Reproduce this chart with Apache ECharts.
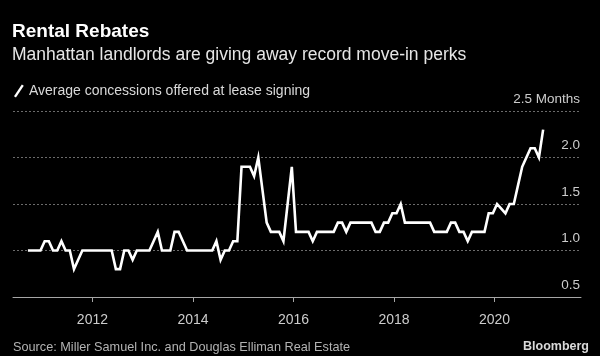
<!DOCTYPE html>
<html><head><meta charset="utf-8">
<script src="https://cdn.jsdelivr.net/npm/echarts@6/dist/echarts.min.js"></script>
<style>html,body{margin:0;padding:0;background:#000;}#c{width:600px;height:356px;}</style>
</head><body><div id="c"></div>
<script>
// Monthly series, first observation Sep 2010, last Dec 2020
const startYear = 2010;
const startMonth = 9;
const v2010 = [1.0, 1.0, 1.0, 1.0];
const v2011 = [1.1, 1.1, 1.0, 1.0, 1.1, 1.0, 1.0, 0.8, 0.9, 1.0, 1.0, 1.0];
const v2012 = [1.0, 1.0, 1.0, 1.0, 1.0, 0.8, 0.8, 1.0, 1.0, 0.9, 1.0, 1.0];
const v2013 = [1.0, 1.0, 1.1, 1.2, 1.0, 1.0, 1.0, 1.2, 1.2, 1.1, 1.0, 1.0];
const v2014 = [1.0, 1.0, 1.0, 1.0, 1.0, 1.1, 0.9, 1.0, 1.0, 1.1, 1.1, 1.9];
const v2015 = [1.9, 1.9, 1.8, 2.0, 1.65, 1.3, 1.2, 1.2, 1.2, 1.1, 1.5, 1.9];
const v2016 = [1.2, 1.2, 1.2, 1.2, 1.1, 1.2, 1.2, 1.2, 1.2, 1.2, 1.3, 1.3];
const v2017 = [1.2, 1.3, 1.3, 1.3, 1.3, 1.3, 1.3, 1.2, 1.2, 1.3, 1.3, 1.4];
const v2018 = [1.4, 1.5, 1.3, 1.3, 1.3, 1.3, 1.3, 1.3, 1.3, 1.2, 1.2, 1.2];
const v2019 = [1.2, 1.3, 1.3, 1.2, 1.2, 1.1, 1.2, 1.2, 1.2, 1.2, 1.4, 1.4];
const v2020 = [1.5, 1.45, 1.4, 1.5, 1.5, 1.7, 1.9, 2.0, 2.1, 2.1, 2.0, 2.3];

const xTickYears = [2012, 2014, 2016, 2018, 2020];
const yTicks = [0.5, 1.0, 1.5, 2.0, 2.5];
const yUnit = 'Months';

const titleText = 'Rental Rebates';
const subtitleText = 'Manhattan landlords are giving away record move-in perks';
const legendText = 'Average concessions offered at lease signing';
const sourceText = 'Source: Miller Samuel Inc. and Douglas Elliman Real Estate';
const brandText = 'Bloomberg';

const values = [].concat(v2010, v2011, v2012, v2013, v2014, v2015, v2016, v2017, v2018, v2019, v2020);
const points = values.map((v, i) => [startYear + (startMonth - 1 + i + 0.6) / 12, v]);

const FONT = "'Liberation Sans', Arial, sans-serif";

const chart = echarts.init(document.getElementById('c'), null, {renderer: 'canvas'});
chart.setOption({
  backgroundColor: '#000',
  animation: false,
  title: [
    {text: titleText, left: 12, top: 22, padding: 0,
     textStyle: {color: '#fff', fontSize: 19, fontWeight: 'bold', fontFamily: FONT}},
    {text: subtitleText, left: 12, top: 46, padding: 0,
     textStyle: {color: '#e6e6e6', fontSize: 17.5, fontWeight: 'normal', fontFamily: FONT}},
    {text: sourceText, left: 13, top: 341, padding: 0,
     textStyle: {color: '#b3b3b3', fontSize: 12.7, fontWeight: 'normal', fontFamily: FONT}},
    {text: brandText, right: 11, top: 340, padding: 0,
     textStyle: {color: '#d9d9d9', fontSize: 12.5, fontWeight: 'bold', fontFamily: FONT}}
  ],
  legend: {
    left: 14, top: 84, padding: 0,
    itemWidth: 10, itemHeight: 13,
    icon: 'path://M0,12 L8,0 L10,1.3 L2,13.3 Z',
    textStyle: {color: '#d9d9d9', fontSize: 14, fontFamily: FONT},
    data: [{name: legendText, itemStyle: {color: '#fff'}}]
  },
  grid: {left: 13, right: 19, top: 111, bottom: 59, containLabel: false, outerBoundsMode: 'none'},
  xAxis: {
    type: 'value', min: 2010.42, max: 2021.72,
    splitLine: {show: false},
    axisLine: {show: true, lineStyle: {color: '#a6a6a6', width: 1}},
    axisTick: {show: true, customValues: xTickYears, length: 5, inside: false,
               lineStyle: {color: '#a6a6a6', width: 1}},
    axisLabel: {customValues: xTickYears, color: '#cccccc', fontSize: 14, margin: 16,
                fontFamily: FONT, formatter: v => String(Math.round(v))}
  },
  yAxis: {
    type: 'value', position: 'right', min: 0.5, max: 2.5, interval: 0.5,
    axisLine: {show: false}, axisTick: {show: false},
    splitLine: {show: true, lineStyle: {color: '#6b6b6b', type: [2, 2], width: 1}},
    axisLabel: {
      inside: true, margin: 1, color: '#cccccc', fontSize: 13.5, fontFamily: FONT,
      verticalAlign: 'bottom', align: 'right', padding: [0, 0, 5, 0],
      formatter: v => (v === yTicks[yTicks.length - 1] ? v.toFixed(1) + ' ' + yUnit : v.toFixed(1)),
      showMinLabel: true, showMaxLabel: true
    }
  },
  series: [{
    name: legendText, type: 'line', data: points,
    showSymbol: false, symbol: 'none',
    lineStyle: {color: '#fff', width: 2.6, join: 'miter'},
    itemStyle: {color: '#fff'}
  }]
});
</script></body></html>
